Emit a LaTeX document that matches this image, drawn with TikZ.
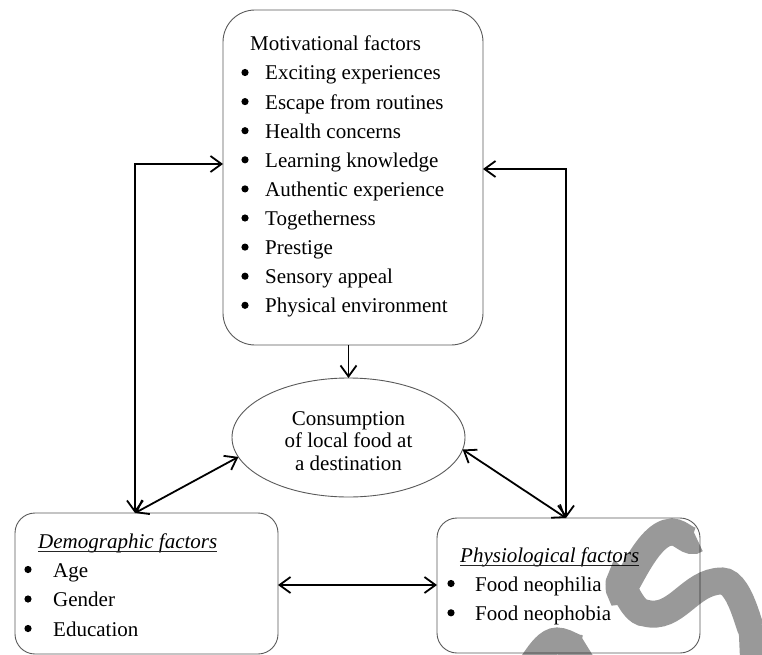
\documentclass[tikz,border=0pt]{standalone}
\usepackage{fontspec}
\setmainfont{Liberation Serif}
\usetikzlibrary{arrows.meta,shapes.geometric}
\begin{document}
\begin{tikzpicture}[x=1pt,y=-1pt,
  every node/.style={font=\fontsize{21pt}{25pt}\selectfont},
  rbox/.style={draw=black!65, line width=0.9pt, rounded corners=#1, inner sep=0pt, outer sep=0pt},
  conn/.style={line width=1.8pt, black},
  >={Straight Barb[length=11pt,width=16pt]},
  txt/.style={anchor=base west, inner sep=0pt},
  bul/.style={circle, fill=black, inner sep=0pt, minimum size=7.2pt},
  uline/.style={line width=0.8pt, black!85},
  wmark/.style={line width=27pt, black, opacity=0.4}
]
\useasboundingbox (0,0) rectangle (762,655);

% boxes
\node[rbox=32pt, minimum width=260pt, minimum height=335pt] (mot) at (353,177.5) {};
\node[rbox=20pt, minimum width=263pt, minimum height=141pt] (dem) at (146.5,583.5) {};
\node[rbox=20pt, minimum width=263pt, minimum height=135pt] (phy) at (568.5,585.5) {};
\node[draw=black!65, line width=0.9pt, ellipse, inner sep=0pt, outer sep=0pt,
      minimum width=233pt, minimum height=119pt, align=center,
      font=\fontsize{21pt}{22.5pt}\selectfont] (ell) at (348.5,437.5)
      {\rule{0pt}{21pt}Consumption\\of local food at\\a destination};

% motivational texts
\node[txt] (mt) at (250,51) {Motivational factors};
\foreach \t [count=\i from 0] in {Exciting experiences, Escape from routines, Health concerns,
  Learning knowledge, Authentic experience, Togetherness, Prestige, Sensory appeal,
  Physical environment} {
  \node[bul] (mb\i) at (245,72.5+29.1*\i) {};
  \node[txt] (mi\i) at (265,80+29.1*\i) {\t};
}

% demographic texts
\node[txt] (dh) at (38,548) {\textit{Demographic factors}};
\draw[uline] ([yshift=-3pt]dh.base west) -- ([yshift=-3pt]dh.base east);
\foreach \t [count=\i from 0] in {Age, Gender, Education} {
  \node[bul] (db\i) at (28,569.5+29.5*\i) {};
  \node[txt] (di\i) at (53,577+29.5*\i) {\t};
}

% physiological texts
\node[txt] (ph) at (460,562) {\textit{Physiological factors}};
\draw[uline] ([yshift=-3pt]ph.base west) -- ([yshift=-3pt]ph.base east);
\foreach \t [count=\i from 0] in {Food neophilia, Food neophobia} {
  \node[bul] (pb\i) at (451,583.5+29.3*\i) {};
  \node[txt] (pi\i) at (475,591+29.3*\i) {\t};
}

% connectors
\coordinate (lc) at (135,164);
\coordinate (rc) at (566,169);
\coordinate (hy) at (0,585);
\draw[conn,<->] (mot.west |- lc) -- (lc) -- (lc |- dem.north);
\draw[conn,<->] (ell.190.6) -- (lc |- dem.north);
\draw[conn,<->] (mot.east |- rc) -- (rc) -- (rc |- phy.north);
\draw[conn,<->] (ell.354.8) -- (rc |- phy.north);
\draw[conn,<->] (dem.east |- hy) -- (phy.west |- hy);
\draw[conn,->] (ell.north |- mot.south) -- (ell.north);

% overlay mark
\begin{scope}
\clip (0,0) rectangle (762,655);
\draw[wmark] (697,539) to[out=216,in=0] (672,532) to[out=180,in=270] (619,585)
  to[out=90,in=180] (645,613) to[out=-15,in=180] (722,581)
  to[out=0,in=-90] (752,625) -- (754,670);
\draw[wmark] (521,668) to[out=-72,in=180] (557,641) to[out=0,in=222] (587,646);
\end{scope}
\end{tikzpicture}
\end{document}
